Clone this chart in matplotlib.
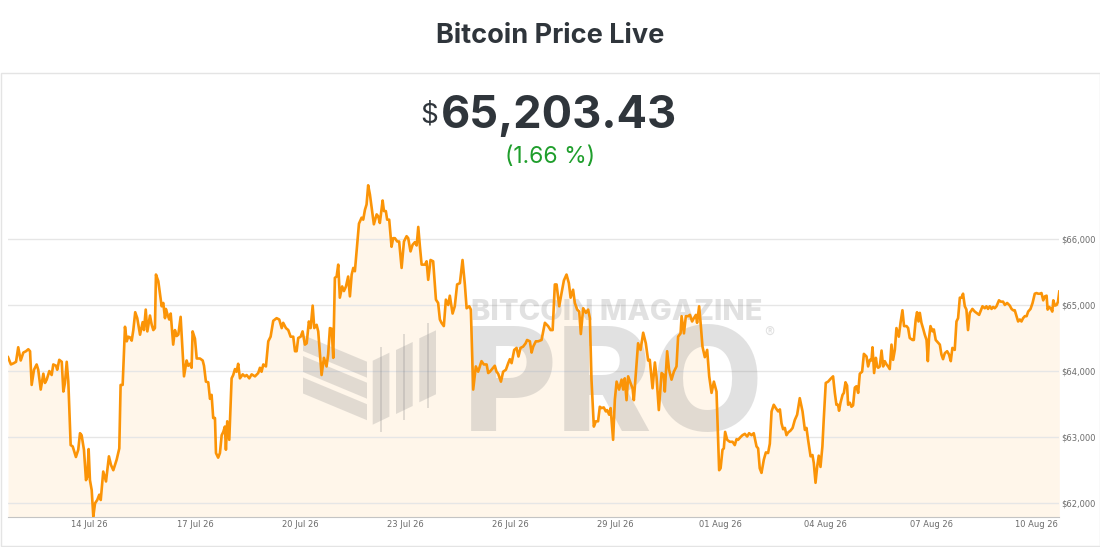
import pandas as pd
import matplotlib
matplotlib.use('Agg')
import matplotlib.pyplot as plt
import matplotlib.transforms as mtransforms
from matplotlib.patches import Rectangle, Polygon

# hourly BTC price (hours since 11 Jul 26 16:00)
hours = [
    0, 2, 4, 5.5, 7, 8.7, 10.5, 12.3, 13.9, 15.1, 16.2, 17.8, 19.6, 20.7, 22.4, 24.2, 25.3, 26.5, 28.3, 29.9,
    31, 32.9, 33.7, 35.1, 36.8, 37.9, 39, 40.2, 41.3, 42.9, 44.3, 46.5, 48.1, 49.3, 50.4, 52, 53.4, 54.3, 55.2, 56.1,
    57.3, 58.4, 59.6, 61.1, 62.5, 63.5, 65.2, 67.1, 69.1, 70.5, 72.1, 74.4, 76.2, 77.1, 78.5, 80.1, 81.3, 82.3, 83.5, 84.7,
    85.8, 87.1, 88.5, 90.4, 92.2, 93.1, 94.3, 95.4, 97.2, 98.4, 99.5, 100.6, 101.3, 102.9, 104, 105.2, 106.3, 107.5, 108.1, 109.3,
    110.4, 111.4, 113.1, 114.3, 115.5, 116.6, 118.2, 120.5, 122.3, 123.4, 124.6, 125.7, 126.4, 128, 129.2, 131.4, 133.3, 134.2, 135.5, 137.1,
    138.3, 139.4, 140.5, 141.7, 142.4, 143.9, 145.1, 146.3, 147.4, 148.5, 149.2, 150.1, 151.5, 153.1, 154.2, 155.4, 156.5, 157.6, 158.8, 160.7,
    162.2, 163.4, 165.2, 166.8, 169.1, 171.3, 172.5, 173.6, 174.8, 176.6, 178.2, 179.8, 181.6, 183.9, 185.7, 187.4, 188.4, 190.3, 191.9, 193.5,
    195.3, 196.5, 197.6, 198.7, 200.4, 201.7, 203.3, 204.5, 206, 207.2, 208.6, 209.7, 211.3, 212.4, 213.6, 214.7, 216.3, 218.1, 219.2, 220.4,
    221.6, 222.7, 223.8, 225, 226.1, 227.2, 228.8, 230, 231.4, 232.9, 234.1, 235.3, 236.4, 237.5, 238.7, 240.3, 242.1, 243.2, 244.4, 245.5,
    246.6, 247.8, 248.9, 250.5, 252.4, 253.5, 254.6, 256.5, 257.4, 258.7, 259.6, 261, 262.6, 263.7, 264.9, 266.5, 267.8, 269.5, 271.1, 272.9,
    274, 275.6, 277, 278.6, 279.8, 280.9, 282, 283.2, 285.5, 286.6, 287.7, 289.3, 291.1, 293, 294.5, 295.7, 296.8, 298.4, 299.8, 301.4,
    302.5, 304.4, 305.9, 307.5, 309.4, 311.2, 312.8, 314, 315.8, 316.9, 318.5, 320.3, 321.9, 324.2, 325.8, 327.7, 328.8, 329.9, 331.8, 333.3,
    334.5, 335.6, 337.5, 339, 340.9, 342.5, 343.6, 344.8, 346.6, 348.2, 349.5, 350.9, 352.7, 354.4, 355.4, 357.3, 358.5, 359.6, 361.4, 363,
    365.3, 367.6, 369.8, 371.5, 372.9, 374.4, 375.6, 377.4, 379, 380.6, 382.4, 384, 385.2, 386.9, 388.1, 389.7, 391.1, 392.2, 393.8, 395.7,
    397.2, 398.4, 399.5, 401.1, 402.5, 404, 405.2, 406.4, 407.9, 409.3, 410.2, 411.6, 412.6, 414.3, 415.5, 416.7, 418.4, 420.1, 421.2, 422.3,
    423.5, 424.6, 426.2, 427.6, 428.5, 429.9, 431.4, 433.1, 434.9, 436.7, 438.3, 439.4, 441.3, 442.9, 444, 445.6, 447.5, 449, 449.7, 451.3,
    452.6, 454.3, 455.9, 457.7, 458.8, 460.5, 461.2, 462.8, 464.1, 465.7, 466.9, 468.4, 469.6, 471, 471.8, 473.2, 474.2, 475.5, 477.1, 478.7,
    480.1, 481.7, 483.3, 485.1, 486.9, 487.9, 489.2, 490.1, 491, 492.4, 494.2, 496.1, 497.6, 498.8, 499.9, 501.5, 502.9, 504.5, 506.1, 507.4,
    509.1, 510.6, 512.5, 513.6, 514.7, 515.9, 517.5, 518.9, 520.4, 521.6, 522.8, 524.3, 525.7, 527.3, 528.5, 529.6, 530.7, 531.9, 533, 534.1,
    535.8, 537.2, 538.7, 540.3, 542.1, 544, 545.6, 546.7, 547.8, 549.5, 550.8, 551.7, 552.9, 554, 555.1, 556.3, 557.6, 558.5, 559.9, 561.5,
    563.1, 564.9, 566.1, 567.2, 568.3, 569, 570, 571.4, 572.3, 573.4, 574.5, 575.2, 576.4, 577.5, 578.6, 579.8, 580.9, 582.1, 583.2, 584.8,
    586, 587.8, 588.9, 590.1, 591.2, 591.9, 593, 594.2, 595.1, 595.8, 596.9, 598.1, 599.2, 600.3, 601.5, 602.6, 603.7, 604.9, 606, 607.2,
    608.3, 609.9, 611.1, 612.4, 613.5, 615.2, 616.3, 617.4, 619.3, 620.2, 621.5, 622.4, 623.4, 624.3, 625.4, 626.6, 627.7, 628.9, 629.8, 630.6,
    631.6, 633, 633.9, 635.2, 636.8, 638, 639.1, 640.2, 641.4, 643, 644.3, 645.5, 646.6, 648.2, 649.4, 650.5, 651.7, 652.8, 653.9, 655.1,
    656.2, 657.3, 658.5, 660.3, 661.9, 663.1, 664.9, 665.8, 667.2, 668.8, 669.9, 671, 672.2, 673.4, 674.5, 675.6, 676.8, 678.5, 679.7, 681.3,
    682.5, 684.1, 685.9, 687.1, 688.2, 689.3, 690.5, 691.6, 692.8, 693.9, 695, 696.2, 697.4, 698.5, 700.1, 701.5, 703, 704.2, 705.3, 706.5,
    707.6, 708.8, 709.9, 711.1, 711.8, 712.9, 714.1, 715, 715.7, 716.8, 718, 718.9, 719.8,
]
price = [
    64210, 64100, 64120, 64140, 64360, 64160, 64280, 64300, 64330, 64300, 63790, 64020, 64100, 64020, 63720, 63960, 63820, 63870, 64000, 63940,
    64100, 64080, 64020, 64170, 64140, 63690, 63820, 64140, 63840, 62880, 62860, 62700, 62810, 63060, 63030, 62810, 62350, 62400, 62820, 62350,
    62200, 61800, 62000, 62050, 62130, 62050, 62480, 62330, 62710, 62580, 62500, 62660, 62830, 63790, 63790, 64670, 64450, 64520, 64510, 64460,
    64620, 64890, 64800, 64550, 64740, 64620, 64930, 64600, 64840, 64700, 64620, 64650, 65460, 65360, 65180, 64980, 65030, 64800, 64940, 64850,
    64780, 64870, 64400, 64620, 64530, 64550, 64820, 63920, 64160, 64080, 64110, 64050, 64600, 64490, 64190, 64190, 64160, 64080, 63840, 63830,
    63580, 63640, 63290, 63290, 62760, 62690, 62760, 63030, 63080, 63160, 62810, 63240, 62960, 63890, 63940, 64030, 63990, 64110, 63890, 63950,
    63920, 63940, 63890, 63950, 63920, 63970, 64050, 63990, 64100, 64070, 64450, 64520, 64760, 64800, 64780, 64650, 64730, 64650, 64620, 64520,
    64520, 64300, 64300, 64500, 64520, 64600, 64400, 64420, 64750, 64650, 64990, 64650, 64700, 64600, 64250, 63940, 64200, 64070, 64250, 64650,
    64640, 64200, 65410, 65430, 65610, 65110, 65280, 65210, 65280, 65430, 65130, 65460, 65560, 65510, 65820, 66230, 66320, 66290, 66440, 66520,
    66810, 66670, 66490, 66220, 66370, 66340, 66240, 66580, 66420, 66420, 66290, 66290, 65880, 66010, 66010, 65960, 65960, 65560, 65960, 66040,
    66010, 65810, 65910, 65950, 65900, 66180, 65890, 65610, 65610, 65660, 65380, 65680, 65660, 65080, 65030, 64780, 64730, 64680, 65080, 65000,
    65140, 64870, 64980, 65310, 65330, 65680, 65310, 64950, 64980, 64930, 63720, 64070, 63990, 64150, 64100, 64100, 63970, 63990, 64040, 64080,
    63990, 63960, 63840, 63990, 64020, 64120, 64180, 64120, 64320, 64350, 64220, 64350, 64370, 64420, 64470, 64450, 64280, 64370, 64450, 64450,
    64470, 64730, 64680, 64620, 64620, 65310, 65310, 64980, 65180, 65370, 65460, 65330, 65110, 65230, 65030, 64930, 64900, 64560, 64950, 64880,
    64930, 64800, 63870, 63160, 63240, 63240, 63460, 63440, 63450, 63390, 63410, 63340, 63440, 62960, 63570, 63840, 63720, 63870, 63720, 63890,
    63560, 63920, 63820, 63740, 63560, 63970, 64420, 64320, 64580, 64420, 64160, 64170, 63740, 64130, 63920, 63410, 63970, 63940, 63690, 64300,
    64020, 63870, 63990, 64070, 64520, 64570, 64830, 64570, 64830, 64830, 64850, 64750, 64800, 64850, 64730, 64980, 64730, 64370, 64210, 64320,
    63920, 63670, 63840, 63690, 62500, 62530, 62810, 62830, 63080, 62960, 62930, 62930, 62880, 62970, 62960, 63000, 63030, 63050, 63010, 63060,
    63030, 63060, 62860, 62830, 62530, 62460, 62660, 62770, 62760, 62900, 63390, 63490, 63440, 63390, 63420, 63210, 63120, 63140, 63030, 63070,
    63100, 63140, 63260, 63340, 63590, 63390, 63110, 63140, 62960, 62710, 62730, 62610, 62310, 62550, 62720, 62550, 62860, 63260, 63820, 63840,
    63880, 63920, 63670, 63490, 63490, 63400, 63520, 63640, 63670, 63830, 63780, 63490, 63520, 63460, 63480, 63750, 63770, 63670, 63960, 63990,
    64260, 64220, 64070, 64170, 64160, 64360, 63970, 64200, 64070, 64050, 64070, 64310, 64070, 64150, 64100, 64070, 64030, 64400, 64170, 64320,
    64650, 64520, 64730, 64920, 64680, 64680, 64650, 64500, 64470, 64470, 64780, 64890, 64750, 64880, 64730, 64640, 64550, 64470, 64150, 64500,
    64680, 64600, 64630, 64470, 64430, 64400, 64250, 64180, 64270, 64300, 64250, 64150, 64350, 64320, 64750, 64800, 65110, 65110, 65170, 64980,
    64930, 64620, 64880, 64940, 64900, 64880, 64850, 64900, 64980, 64950, 64980, 64940, 64980, 64940, 64970, 64950, 64980, 65070, 65050, 65050,
    65000, 65030, 64990, 64940, 64920, 64920, 64830, 64750, 64780, 64750, 64800, 64830, 64830, 64900, 64940, 65030, 65170, 65180, 65170, 65170,
    65180, 65070, 65130, 65140, 64930, 64970, 64940, 64900, 65070, 64990, 65000, 65050, 65203.43,
]

start_time = '2026-07-11 16:00'
tick_dates = ['2026-07-14', '2026-07-17', '2026-07-20', '2026-07-23', '2026-07-26',
              '2026-07-29', '2026-08-01', '2026-08-04', '2026-08-07', '2026-08-10']
tick_labels = ['14 Jul 26', '17 Jul 26', '20 Jul 26', '23 Jul 26', '26 Jul 26',
               '29 Jul 26', '01 Aug 26', '04 Aug 26', '07 Aug 26', '10 Aug 26']
y_ticks = [62000, 63000, 64000, 65000, 66000]
y_labels = ['$62,000', '$63,000', '$64,000', '$65,000', '$66,000']
last_price = '65,203.43'
change_text = '(1.66 %)'

times = pd.Timestamp(start_time) + pd.to_timedelta(hours, unit='h')

W, H = 1100, 547
fig = plt.figure(figsize=(W / 100, H / 100), dpi=100)
# pixel coords with origin top-left, for layout / watermark
px = mtransforms.Affine2D().scale(1 / 100, -1 / 100).translate(0, H / 100) + fig.dpi_scale_trans
head_font = ['Inter', 'DejaVu Sans']
dark = '#2f353b'

# card border
fig.add_artist(Rectangle((0.5, 72.7), 1099, 473.5, transform=px, fill=False, ec='#e4e4e4', lw=1))

ax = fig.add_axes([8 / W, 1 - 516.7 / H, 1051.3 / W, 336.7 / H])
ax.set_facecolor('none')

ax.fill_between(times, price, 61797, color='#fff6ea', lw=0, zorder=1)
ax.plot(times, price, color='#fb9407', lw=1.9, zorder=4)

# watermark (logo), in pixel coords
wm = dict(color='#8a8a8a', alpha=0.25, zorder=2)
for top in [335.0, 356.0, 377.5]:
    ax.add_patch(Polygon([(303, top), (367, top + 26.7), (367, top + 42.7), (303, top + 16)],
                         transform=px, lw=0, **wm))
for x0, top, wick_top, wick_bot in [(372.7, 360.7, 346.7, 431.7), (396.0, 350.0, 334.3, 420.0),
                                     (419.3, 338.3, 322.7, 408.3)]:
    ax.add_patch(Polygon([(x0, top), (x0 + 16.7, top - 8), (x0 + 16.7, top + 56), (x0, top + 64)],
                         transform=px, lw=0, **wm))
    ax.add_patch(Rectangle((x0 + 7.3, wick_top), 2, wick_bot - wick_top, transform=px, lw=0, **wm))
ax.text(617, 312, 'BITCOIN MAGAZINE', transform=px, ha='center', va='center',
        fontsize=21, fontweight='heavy', family=head_font, **wm)
ax.text(463, 431, 'PRO', transform=px, ha='left', va='baseline',
        fontsize=104, fontweight='heavy', family=head_font, **wm)
ax.text(769, 333, '\u00ae', transform=px, ha='center', va='center',
        fontsize=11, family=head_font, **wm)

ax.set_xlim(times[0], times[-1])
ax.set_ylim(61797, 66890)
ax.set_xticks(pd.to_datetime(tick_dates), tick_labels)
ax.set_yticks(y_ticks, y_labels)
ax.yaxis.tick_right()
ax.grid(axis='y', color='#e6e6e6', lw=1, zorder=1.5)
ax.tick_params(length=0, labelsize=6, colors='#6b6b6b')
ax.tick_params(axis='x', pad=2.5)
ax.tick_params(axis='y', pad=1.5)
for side in ['top', 'left', 'right']:
    ax.spines[side].set_visible(False)
ax.spines['bottom'].set_color('#c4c4c4')

# header
fig.text(0.5, 1 - 36 / H, 'Bitcoin Price Live', ha='center', va='center',
         fontsize=19.5, fontweight='bold', color=dark, family=head_font)
num = fig.text(559 / W, 1 - 128 / H, last_price, ha='center', va='baseline',
               fontsize=32.5, fontweight='bold', color=dark, family=head_font)
fig.canvas.draw()
bb = num.get_window_extent()
fig.text((bb.x0 - 3) / W, 1 - 123 / H, '$', ha='right', va='baseline',
         fontsize=20, color=dark, family=head_font)
fig.text(0.5, 1 - 157 / H, change_text, ha='center', va='center',
         fontsize=16.5, color='#1f9e2c', family=head_font)

fig.savefig('out.png', dpi=100)
